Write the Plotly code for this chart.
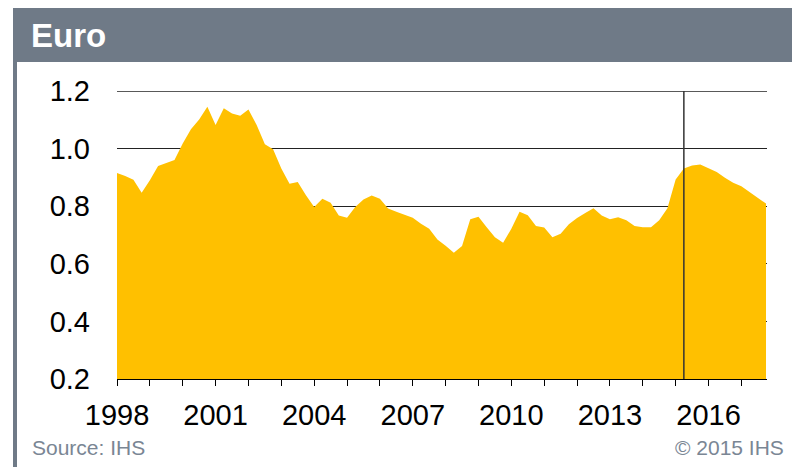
import plotly.graph_objects as go

# Quarterly data, 1998Q1 .. 2017Q4
start_year = 1998
euro_values = [
    0.915, 0.905, 0.892, 0.847, 0.890, 0.940, 0.950, 0.960,
    1.018, 1.067, 1.101, 1.145, 1.082, 1.140, 1.122, 1.114,
    1.136, 1.082, 1.015, 0.998, 0.931, 0.878, 0.884, 0.838,
    0.797, 0.826, 0.812, 0.768, 0.760, 0.797, 0.823, 0.837,
    0.826, 0.792, 0.781, 0.770, 0.760, 0.739, 0.722, 0.684,
    0.663, 0.638, 0.662, 0.755, 0.763, 0.727, 0.692, 0.673,
    0.722, 0.781, 0.769, 0.731, 0.726, 0.692, 0.704, 0.737,
    0.759, 0.776, 0.793, 0.768, 0.755, 0.762, 0.751, 0.731,
    0.727, 0.727, 0.751, 0.793, 0.893, 0.931, 0.941, 0.945,
    0.933, 0.919, 0.899, 0.881, 0.869, 0.849, 0.832, 0.809,
]
quarters = [start_year + i / 4 for i in range(len(euro_values))]
tick_years = list(range(1998, 2018))
tick_labels = [str(y) if (y - 1998) % 3 == 0 else "" for y in tick_years]
y_ticks = [0.2, 0.4, 0.6, 0.8, 1.0, 1.2]
forecast_start = 2015.25

title_text = "Euro"
source_text = "Source: IHS"
copyright_text = "© 2015 IHS"

# page offset (browser body margin)
OFF = 8
PW, PH = 800, 467
W, H = PW - OFF, PH - OFF
# plot area in page pixels
PL, PR, PT, PB = 117, 767, 91, 379
L, R, T, B = PL - OFF, PW - PR, PT - OFF, PH - PB
pw, ph = PR - PL, PB - PT

def px(x):  # page px -> paper
    return (x - PL) / pw

def py(y):
    return (PB - y) / ph

FONT = "Liberation Sans, Arial, sans-serif"
GRAY = "#6F7A87"
GRID = "#222222"

fig = go.Figure()
fig.add_trace(go.Scatter(
    x=quarters, y=euro_values, mode="lines", fill="tozeroy",
    fillcolor="#FFC000", line=dict(width=0, color="#FFC000"),
    hoverinfo="x+y", showlegend=False,
))

shapes = [
    dict(type="rect", xref="paper", yref="paper", x0=px(13), x1=px(801),
         y0=py(62), y1=py(7), fillcolor=GRAY, line=dict(width=0), layer="below"),
    dict(type="rect", xref="paper", yref="paper", x0=px(13), x1=px(17),
         y0=py(468), y1=py(62), fillcolor=GRAY, line=dict(width=0), layer="below"),
    # top gridline (at the edge of the range)
    dict(type="line", xref="paper", yref="y", x0=0, x1=1, y0=y_ticks[-1], y1=y_ticks[-1],
         line=dict(color=GRID, width=1.4), layer="below"),
    dict(type="line", xref="x", yref="y", x0=forecast_start, x1=forecast_start,
         y0=0.2, y1=1.2, line=dict(color="#333333", width=1.5), layer="above"),
]

annotations = [
    dict(text=f"<b>{title_text}</b>", xref="paper", yref="paper", x=px(29), y=py(35),
         xanchor="left", yanchor="middle", showarrow=False,
         font=dict(family=FONT, size=33, color="white")),
    dict(text=source_text, xref="paper", yref="paper", x=px(30), y=py(447),
         xanchor="left", yanchor="middle", showarrow=False,
         font=dict(family=FONT, size=21, color="#7A8694")),
    dict(text=copyright_text, xref="paper", yref="paper", x=px(786), y=py(447),
         xanchor="right", yanchor="middle", showarrow=False,
         font=dict(family=FONT, size=21, color="#7A8694")),
]

fig.update_layout(
    width=W, height=H,
    margin=dict(l=L, r=R, t=T, b=B, pad=0),
    paper_bgcolor="white", plot_bgcolor="white",
    shapes=shapes, annotations=annotations,
    font=dict(family=FONT, size=29, color="black"),
    xaxis=dict(
        range=[1998, 2017.78], tickmode="array", tickvals=tick_years, ticktext=tick_labels,
        showgrid=False, showline=True, linecolor="black", linewidth=1.3,
        ticks="outside", ticklen=6, tickcolor="black", tickwidth=1.2,
        ticklabelstandoff=4,
        tickfont=dict(family=FONT, size=29, color="black"), zeroline=False,
    ),
    yaxis=dict(
        range=[0.2, 1.2], tickmode="array", tickvals=y_ticks,
        ticktext=[f"{v:.1f}" for v in y_ticks],
        showgrid=True, gridcolor=GRID, gridwidth=1.4,
        showline=False, zeroline=False, ticks="", ticklabelstandoff=26,
        tickfont=dict(family=FONT, size=29, color="black"),
    ),
)

fig.write_html("out.html")
